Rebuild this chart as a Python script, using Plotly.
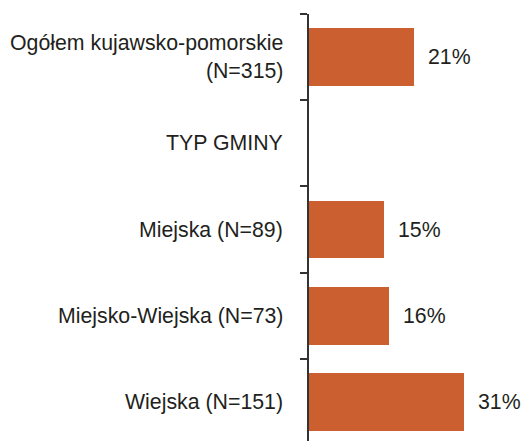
import plotly.graph_objects as go

# Data
categories = [
    "Ogółem kujawsko-pomorskie<br>(N=315)",
    "TYP GMINY",
    "Miejska (N=89)",
    "Miejsko-Wiejska (N=73)",
    "Wiejska (N=151)",
]
values = [21, None, 15, 16, 31]

BAR_COLOR = "#CC5F2F"
TEXT_COLOR = "#231F20"
FONT = "Liberation Sans, Arial, Helvetica, sans-serif"
FONT_SIZE = 21.3

positions = list(range(len(categories)))

fig = go.Figure()

fig.add_trace(go.Bar(
    y=positions,
    x=values,
    orientation="h",
    width=0.67,
    marker=dict(color=BAR_COLOR, line=dict(width=0)),
    hoverinfo="skip",
    showlegend=False,
))

annotations = []
# category labels on the left
for pos, label in zip(positions, categories):
    annotations.append(dict(
        x=0, xref="paper", y=pos, yref="y",
        text=label, showarrow=False,
        xanchor="right", yanchor="middle", align="right",
        xshift=-24,
        font=dict(family=FONT, size=FONT_SIZE, color=TEXT_COLOR),
    ))
# value labels at the end of the bars
for pos, val in zip(positions, values):
    if val is None:
        continue
    annotations.append(dict(
        x=val, xref="x", y=pos, yref="y",
        text=f"{val}%", showarrow=False,
        xanchor="left", yanchor="middle",
        xshift=12,
        font=dict(family=FONT, size=FONT_SIZE, color=TEXT_COLOR),
    ))

boundaries = [p - 0.5 for p in positions] + [positions[-1] + 0.5]

fig.update_layout(
    width=525,
    height=441,
    margin=dict(l=309, r=0, t=14, b=0),
    paper_bgcolor="white",
    plot_bgcolor="white",
    font=dict(family=FONT, size=FONT_SIZE, color=TEXT_COLOR),
    annotations=annotations,
    bargap=0,
    xaxis=dict(
        range=[0, 43.2],
        visible=False,
        fixedrange=True,
    ),
    yaxis=dict(
        range=[positions[-1] + 0.5 - 4 / 86.2, -0.5],
        tickmode="array",
        tickvals=boundaries,
        ticktext=[""] * len(boundaries),
        ticks="outside",
        ticklen=7,
        tickwidth=1.5,
        tickcolor="#333333",
        showline=True,
        linecolor="#333333",
        linewidth=1.5,
        showgrid=False,
        zeroline=False,
        fixedrange=True,
    ),
)

# drop the default page margin so the figure sits at the window's corner
fig.write_html(
    "out.html",
    config={"displayModeBar": False},
    post_script="document.body.style.margin='0';",
)
